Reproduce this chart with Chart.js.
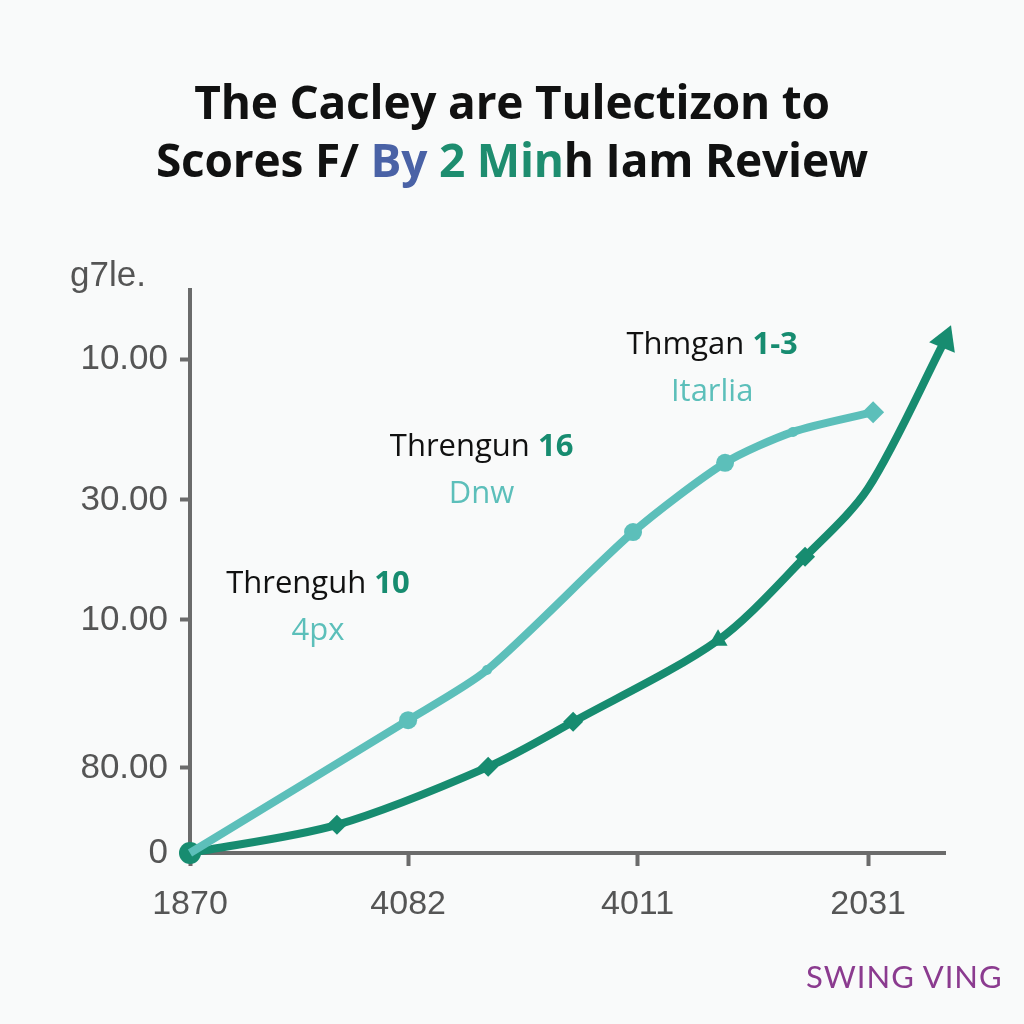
<!DOCTYPE html>
<html>
<head>
<meta charset="utf-8">
<script src="https://cdn.jsdelivr.net/npm/chart.js@4.4.0/dist/chart.umd.min.js"></script>
<style>
    html, body { margin: 0; padding: 0; background: #f9fafa; }
    .wrap { position: relative; width: 1024px; height: 1024px; overflow: hidden; }
    #grafico { position: absolute; left: 0; top: 0; }
    .titulo {
        position: absolute; left: 0; top: 72px; width: 1024px; text-align: center;
        font-family: "Open Sans", sans-serif; font-weight: 700; font-size: 46px;
        line-height: 58px; color: #111; letter-spacing: -0.2px;
    }
    .azul { color: #4a62a6; }
    .verde { color: #1e8d6f; }
    .marca {
        position: absolute; left: 806px; top: 957px;
        font-family: "Lato", sans-serif; font-size: 31px; color: #8b3b8f; letter-spacing: 1px;
    }
</style>
</head>
<body>
<div class="wrap">
    <canvas id="grafico" width="1024" height="1024"></canvas>
    <div class="titulo">
        The Cacley are Tulectizon to<br>
        Scores F/ <span class="azul">By</span> <span class="verde">2 Min</span>h Iam Review
    </div>
    <div class="marca">SWING VING</div>
</div>
<script>
// datos
const xTickValues = [0, 0.965, 1.98, 3];
const xTickLabels = ['1870', '4082', '4011', '2031'];
const yTickValues = [0, 15.1, 41.4, 62.7, 87.6];
const yTickLabels = ['0', '80.00', '10.00', '30.00', '10.00'];
const yAxisLabel = 'g7le.';

const serieClaraX = [0, 0.965, 1.314, 1.96, 2.367, 2.668, 3.022];
const serieClaraY = [0, 23.6, 32.5, 57.0, 69.3, 74.8, 78.3];
const serieOscuraX = [0, 0.65, 1.319, 1.695, 2.336, 2.721, 3.0, 3.34];
const serieOscuraY = [0, 5.0, 15.3, 23.3, 37.8, 52.6, 64.8, 91.1];

// etiquetas sobre el grafico (texto, numero, subtitulo)
const notas = [
    { x: 0.566, y: 48.1, nombre: 'Threnguh ', numero: '10', sub: '4px' },
    { x: 1.29, y: 72.5, nombre: 'Threngun ', numero: '16', sub: 'Dnw' },
    { x: 2.31, y: 90.5, nombre: 'Thmgan ', numero: '1-3', sub: 'Itarlia' }
];

const colores = { clara: '#5cbfba', oscura: '#178c70', eje: '#6b6b6b', texto: '#555' };
const fuenteNota = '"Open Sans", sans-serif';

document.addEventListener('DOMContentLoaded', () => {
    const toPoints = (xs, ys) => xs.map((x, i) => ({ x, y: ys[i] }));

    const notasPlugin = {
        id: 'notas',
        afterDatasetsDraw(chart) {
            const { ctx, scales } = chart;
            ctx.save();
            ctx.textBaseline = 'alphabetic';
            notas.forEach(n => {
                const cx = scales.x.getPixelForValue(n.x);
                const cy = scales.y.getPixelForValue(n.y);
                ctx.font = `31px ${fuenteNota}`;
                const w1 = ctx.measureText(n.nombre).width;
                ctx.font = `bold 31px ${fuenteNota}`;
                const w2 = ctx.measureText(n.numero).width;
                const x0 = cx - (w1 + w2) / 2;
                ctx.textAlign = 'left';
                ctx.font = `31px ${fuenteNota}`;
                ctx.fillStyle = '#111';
                ctx.fillText(n.nombre, x0, cy + 11);
                ctx.font = `bold 31px ${fuenteNota}`;
                ctx.fillStyle = colores.oscura;
                ctx.fillText(n.numero, x0 + w1, cy + 11);
                ctx.font = `31px ${fuenteNota}`;
                ctx.fillStyle = colores.clara;
                ctx.textAlign = 'center';
                ctx.fillText(n.sub, cx, cy + 58);
            });
            // rotulo del eje y, horizontal arriba a la izquierda
            ctx.font = '35px "Liberation Sans", Arial, sans-serif';
            ctx.fillStyle = colores.texto;
            ctx.textAlign = 'left';
            ctx.fillText(yAxisLabel, 70, 286);
            ctx.restore();
        }
    };

    const ctx = document.getElementById('grafico').getContext('2d');
    new Chart(ctx, {
        type: 'line',
        data: {
            datasets: [
                {
                    label: 'Clara',
                    data: toPoints(serieClaraX, serieClaraY),
                    borderColor: colores.clara, backgroundColor: colores.clara,
                    borderWidth: 8, tension: 0.25, clip: false,
                    pointStyle: ['circle', 'circle', 'circle', 'circle', 'circle', 'circle', 'rectRot'],
                    pointRadius: [0, 9, 5, 9, 9, 5, 11],
                    pointBorderWidth: 0
                },
                {
                    label: 'Oscura',
                    data: toPoints(serieOscuraX, serieOscuraY),
                    borderColor: colores.oscura, backgroundColor: colores.oscura,
                    borderWidth: 8, tension: 0.3, clip: false,
                    pointStyle: ['circle', 'rectRot', 'rectRot', 'rectRot', 'triangle', 'rectRot', 'circle', 'triangle'],
                    pointRadius: [11, 10, 10, 10, 11, 10, 0, 16],
                    pointRotation: [0, 0, 0, 0, 0, 0, 0, 22],
                    pointBorderWidth: 0
                }
            ]
        },
        options: {
            responsive: false,
            animation: false,
            layout: { padding: { top: 290, left: 0, right: 79, bottom: 0 } },
            plugins: { legend: { display: false }, tooltip: { enabled: false }, title: { display: false } },
            scales: {
                x: {
                    type: 'linear', min: 0, max: 3.34,
                    afterBuildTicks: s => { s.ticks = xTickValues.map(v => ({ value: v })); },
                    afterFit: s => { s.height = 171; },
                    ticks: {
                        callback: (v, i) => xTickLabels[i],
                        color: colores.texto, padding: 18,
                        font: { family: '"Liberation Sans", Arial, sans-serif', size: 34 }
                    },
                    grid: { drawOnChartArea: false, drawTicks: true, tickLength: 13, tickWidth: 4, tickColor: colores.eje },
                    border: { display: true, color: colores.eje, width: 4 }
                },
                y: {
                    type: 'linear', min: 0, max: 100,
                    afterBuildTicks: s => { s.ticks = yTickValues.map(v => ({ value: v })); },
                    afterFit: s => { s.width = 190; },
                    ticks: {
                        callback: (v, i) => yTickLabels[i],
                        color: colores.texto, padding: 12,
                        font: { family: '"Liberation Sans", Arial, sans-serif', size: 35 }
                    },
                    grid: { drawOnChartArea: false, drawTicks: true, tickLength: 10, tickWidth: 4, tickColor: colores.eje },
                    border: { display: true, color: colores.eje, width: 4 }
                }
            }
        },
        plugins: [notasPlugin]
    });
});
</script>
</body>
</html>
